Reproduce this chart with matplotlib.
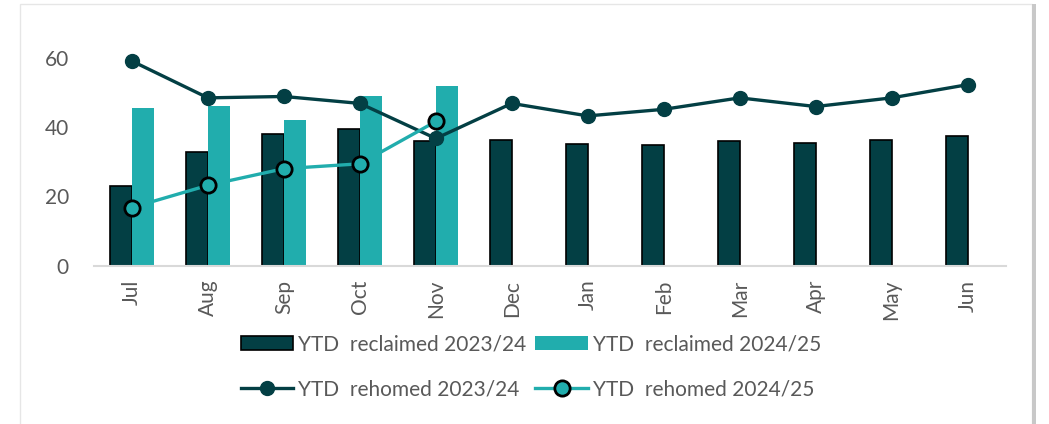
import matplotlib.pyplot as plt
import numpy as np
from matplotlib.patches import Rectangle

DARK = "#033f44"
TEAL = "#21adad"
GREY = "#595959"

months = ["Jul", "Aug", "Sep", "Oct", "Nov", "Dec", "Jan", "Feb", "Mar", "Apr", "May", "Jun"]
reclaimed_2324 = [22.9, 32.8, 38.0, 39.4, 36.0, 36.3, 35.1, 34.9, 35.9, 35.5, 36.3, 37.3]
reclaimed_2425 = [45.6, 46.0, 42.1, 49.0, 51.8]
rehomed_2324 = [59.0, 48.4, 48.8, 46.8, 36.7, 46.8, 43.2, 45.1, 48.4, 45.9, 48.4, 52.2]
rehomed_2425 = [16.8, 23.2, 28.0, 29.4, 41.6]

plt.rcParams.update({
    "font.family": ["Lato", "DejaVu Sans"],
    "font.size": 12,
})

fig = plt.figure(figsize=(10.49, 4.24), dpi=100)
fig.patches.append(Rectangle((0.019, -0.01), 0.965, 1.0, transform=fig.transFigure,
                             fill=False, edgecolor="#e6e6e6", linewidth=1.0))
fig.patches.append(Rectangle((0.984, -0.01), 0.004, 1.0, transform=fig.transFigure,
                             facecolor="#c8c8c8", edgecolor="none"))
ax = fig.add_axes([0.0896, 0.373, 0.869, 0.573])

x = np.arange(len(months))
w = 0.29
b1 = ax.bar(x - w / 2, reclaimed_2324, w, color=DARK, edgecolor="black", linewidth=1.2,
            label="YTD  reclaimed 2023/24", zorder=2)
b2 = ax.bar(x[:len(reclaimed_2425)] + w / 2, reclaimed_2425, w, color=TEAL,
            label="YTD  reclaimed 2024/25", zorder=2)
l1, = ax.plot(x, rehomed_2324, color=DARK, linewidth=2.4, marker="o", markersize=10,
              label="YTD  rehomed 2023/24", zorder=3)
l2, = ax.plot(x[:len(rehomed_2425)], rehomed_2425, color=TEAL, linewidth=2.4, marker="o",
              markersize=11, markerfacecolor=TEAL, markeredgecolor="black", markeredgewidth=2,
              label="YTD  rehomed 2024/25", zorder=4)

ax.set_xlim(-0.5, 11.5)
ax.set_ylim(0, 70)
ax.set_yticks([0, 20, 40, 60])
ax.set_xticks(x)
ax.set_xticklabels(months, rotation=90)
ax.tick_params(axis="both", length=0, labelsize=15, colors=GREY)
ax.tick_params(axis="y", pad=18)
ax.tick_params(axis="x", pad=10)
for s in ["top", "right", "left"]:
    ax.spines[s].set_visible(False)
ax.spines["bottom"].set_color("#d9d9d9")
ax.spines["bottom"].set_linewidth(1.5)

# legend fills column by column, so interleave to get bars on row 1, lines on row 2
handles = [b1, l1, b2, l2]
fig.legend(handles, [h.get_label() for h in handles], ncol=2,
           loc="center", bbox_to_anchor=(0.506, 0.135), frameon=False,
           fontsize=15, labelcolor=GREY, handlelength=2.5, handletextpad=0.25,
           columnspacing=0.45, labelspacing=1.2)

fig.savefig("out.png", dpi=100, facecolor="white")
